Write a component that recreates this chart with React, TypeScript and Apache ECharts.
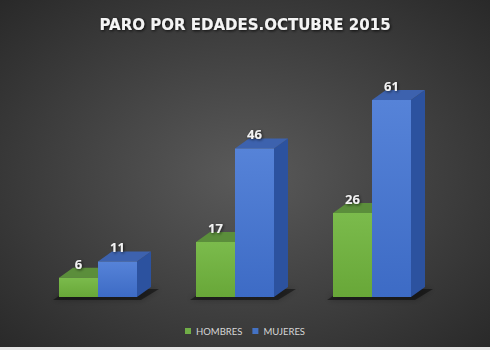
import React, { useEffect, useRef } from "react";
import * as echarts from "echarts";

const categories = ["G1", "G2", "G3"];
const hombres = [6, 17, 26];
const mujeres = [11, 46, 61];
const title = "PARO POR EDADES.OCTUBRE 2015";
const seriesNames = ["HOMBRES", "MUJERES"];

const BAR_W = 39;
const DX = 14;
const DY = 10;

const palettes = [
  {
    front: new echarts.graphic.LinearGradient(0, 0, 0, 1, [
      { offset: 0, color: "#7bbb4c" },
      { offset: 1, color: "#68a738" },
    ]),
    top: "#5b8e3b",
    side: "#4c7b2f",
    legend: "#70ad47",
  },
  {
    front: new echarts.graphic.LinearGradient(0, 0, 0, 1, [
      { offset: 0, color: "#5683d8" },
      { offset: 1, color: "#3d6bc5" },
    ]),
    top: "#3d62ae",
    side: "#2c529f",
    legend: "#4472c4",
  },
];

function makeRender(idx: number) {
  return (params: any, api: any) => {
    const cat = api.value(0);
    const val = api.value(1);
    const basePt = api.coord([cat, 0]);
    const topPt = api.coord([cat, val]);
    const cx = basePt[0];
    const x0 = idx === 0 ? cx - BAR_W : cx;
    const x1 = x0 + BAR_W;
    const yb = basePt[1];
    const yt = topPt[1];
    const p = palettes[idx];
    const children: any[] = [];
    if (idx === 0) {
      const gl = cx - BAR_W;
      const gr = cx + BAR_W;
      children.push({
        type: "polygon",
        shape: {
          points: [
            [gl - 6, yb + 3],
            [gr + 4, yb + 3],
            [gr + DX + 8, yb - DY + 2],
            [gl + DX - 4, yb - DY + 2],
          ],
        },
        style: { fill: "rgba(0,0,0,0.45)", shadowBlur: 6, shadowColor: "rgba(0,0,0,0.6)" },
      });
    }
    children.push(
      {
        type: "polygon",
        shape: { points: [[x1, yb], [x1 + DX, yb - DY], [x1 + DX, yt - DY], [x1, yt]] },
        style: { fill: p.side },
      },
      {
        type: "polygon",
        shape: { points: [[x0, yt], [x1, yt], [x1 + DX, yt - DY], [x0 + DX, yt - DY]] },
        style: { fill: p.top },
      },
      {
        type: "rect",
        shape: { x: x0, y: yt, width: BAR_W, height: yb - yt },
        style: { fill: p.front },
      },
      {
        type: "text",
        x: x0 + BAR_W / 2,
        y: yt - 14,
        style: {
          text: String(val),
          fill: "#f2f2f2",
          font: "bold 13px 'Open Sans', sans-serif",
          textAlign: "center",
          textVerticalAlign: "middle",
          textShadowColor: "rgba(0,0,0,0.7)",
          textShadowBlur: 3,
          textShadowOffsetX: 1,
          textShadowOffsetY: 1,
        },
      }
    );
    return { type: "group", children };
  };
}

export default function App() {
  const ref = useRef<HTMLDivElement>(null);
  useEffect(() => {
    document.body.style.margin = "0";
    const chart = echarts.init(ref.current!, null, { renderer: "svg" });
    const dataFor = (vals: number[]) => vals.map((v, i) => [i, v]);
    chart.setOption({
      animation: false,
      backgroundColor: {
        type: "radial",
        x: 0.5,
        y: 0.5,
        r: 0.75,
        colorStops: [
          { offset: 0, color: "#5a5a5a" },
          { offset: 1, color: "#262626" },
        ],
      },
      title: {
        text: title,
        left: "center",
        top: 12,
        textStyle: {
          color: "#f4f4f4",
          fontSize: 15,
          fontWeight: "bold",
          fontFamily: "'DejaVu Sans', sans-serif",
          textShadowColor: "rgba(0,0,0,0.8)",
          textShadowBlur: 3,
          textShadowOffsetX: 1,
          textShadowOffsetY: 1,
        },
      },
      legend: {
        data: seriesNames,
        bottom: 9,
        left: "center",
        icon: "rect",
        itemWidth: 6,
        itemHeight: 6,
        itemGap: 10,
        textStyle: { color: "#d6d6d6", fontSize: 9.5, fontFamily: "Lato, sans-serif" },
      },
      grid: { left: 29.5, right: 49.5, top: 71, bottom: 53 },
      xAxis: {
        type: "category",
        data: categories,
        show: false,
      },
      yAxis: { type: "value", min: 0, max: 70, show: false },
      graphic: [
        {
          type: "rect",
          left: 0,
          top: 347,
          shape: { width: 490, height: 3 },
          style: { fill: "#e6e6e6" },
        },
      ],
      series: [
        {
          type: "custom",
          name: seriesNames[0],
          itemStyle: { color: palettes[0].legend },
          renderItem: makeRender(0),
          encode: { x: 0, y: 1 },
          data: dataFor(hombres),
        },
        {
          type: "custom",
          name: seriesNames[1],
          itemStyle: { color: palettes[1].legend },
          renderItem: makeRender(1),
          encode: { x: 0, y: 1 },
          data: dataFor(mujeres),
        },
      ],
    });
    return () => chart.dispose();
  }, []);
  return <div ref={ref} style={{ width: 490, height: 350 }} />;
}
